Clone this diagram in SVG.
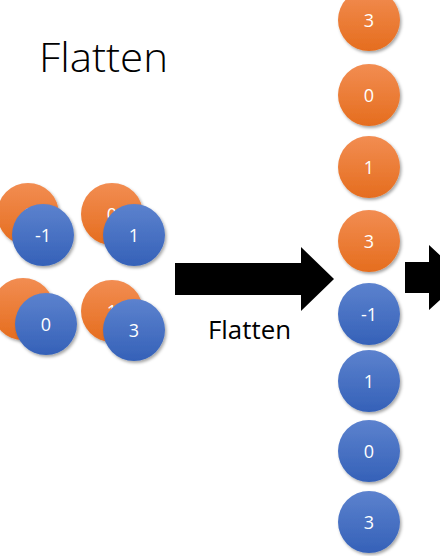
<svg xmlns="http://www.w3.org/2000/svg" width="440" height="556" viewBox="0 0 440 556">
<defs>
<linearGradient id="og" x1="0" y1="0" x2="0" y2="1"><stop offset="0" stop-color="#F28D52"/><stop offset="1" stop-color="#E56D1E"/></linearGradient>
<linearGradient id="bg" x1="0" y1="0" x2="0" y2="1"><stop offset="0" stop-color="#5C82CE"/><stop offset="1" stop-color="#3561B8"/></linearGradient>
<filter id="sh" x="-30%" y="-30%" width="160%" height="160%"><feDropShadow dx="1.5" dy="2" stdDeviation="1.5" flood-color="#000" flood-opacity="0.35"/></filter>
</defs>
<style>
.o{fill:url(#og);filter:url(#sh)}
.b{fill:url(#bg);filter:url(#sh)}
.n{font-family:"Open Sans","Liberation Sans",sans-serif;font-size:18px;fill:#fff;text-anchor:middle}
.t{font-family:"Open Sans","Liberation Sans",sans-serif;fill:#000}
</style>
<rect width="440" height="556" fill="#fff"/>
<text class="t" x="39" y="72" font-size="40" font-weight="300" textLength="129" lengthAdjust="spacingAndGlyphs">Flatten</text>
<g id="left-cluster">
<g id="o1"><circle class="o" cx="28" cy="214" r="31"/><text class="n" x="30" y="221">3</text></g>
<g id="o2"><circle class="o" cx="112" cy="214" r="31"/><text class="n" x="112" y="221">0</text></g>
<g id="o3"><circle class="o" cx="23" cy="309" r="31"/></g>
<g id="o4"><circle class="o" cx="112" cy="311" r="31"/><text class="n" x="112" y="318">1</text></g>
<g id="b1"><circle class="b" cx="43" cy="235" r="31"/><text class="n" x="43" y="242">-1</text></g>
<g id="b2"><circle class="b" cx="134" cy="235" r="31"/><text class="n" x="134" y="242">1</text></g>
<g id="b3"><circle class="b" cx="46" cy="324" r="31"/><text class="n" x="46" y="331">0</text></g>
<g id="b4"><circle class="b" cx="134" cy="330" r="31"/><text class="n" x="134" y="337">3</text></g>
</g>
<g id="connectors">
<polygon points="175,263 301,263 301,247 334,279 301,311 301,295 175,295" fill="#000"/>
<polygon points="405,262 429,262 429,245 464,278 429,310 429,293 405,293" fill="#000"/>
</g>
<text class="t" x="208" y="339" font-size="26" textLength="83" lengthAdjust="spacingAndGlyphs">Flatten</text>
<g id="column">
<g id="c1"><circle class="o" cx="369" cy="20" r="31"/><text class="n" x="369" y="27">3</text></g>
<g id="c2"><circle class="o" cx="369" cy="95" r="31"/><text class="n" x="369" y="102">0</text></g>
<g id="c3"><circle class="o" cx="369" cy="167" r="31"/><text class="n" x="369" y="174">1</text></g>
<g id="c4"><circle class="o" cx="369" cy="241" r="31"/><text class="n" x="369" y="248">3</text></g>
<g id="c5"><circle class="b" cx="369" cy="314" r="31"/><text class="n" x="369" y="321">-1</text></g>
<g id="c6"><circle class="b" cx="369" cy="381" r="31"/><text class="n" x="369" y="388">1</text></g>
<g id="c7"><circle class="b" cx="369" cy="451" r="31"/><text class="n" x="369" y="458">0</text></g>
<g id="c8"><circle class="b" cx="369" cy="522" r="31"/><text class="n" x="369" y="529">3</text></g>
</g>
</svg>
